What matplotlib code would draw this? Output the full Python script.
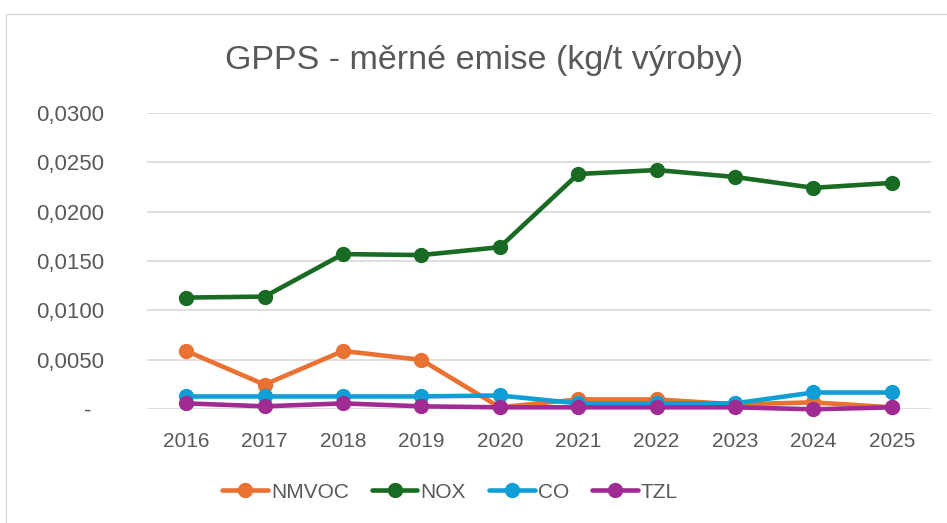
import matplotlib
matplotlib.use('Agg')
from matplotlib import pyplot as plt
from matplotlib.patches import Rectangle

# hodnoty (kg/t vyroby)
roky = ['2016', '2017', '2018', '2019', '2020', '2021', '2022', '2023', '2024', '2025']
nmvoc = [0.0059, 0.0025, 0.0059, 0.0050, 0.0002, 0.0010, 0.0010, 0.0005, 0.0007, 0.0002]
nox = [0.0113, 0.0114, 0.0157, 0.0156, 0.0164, 0.0238, 0.0242, 0.0235, 0.0224, 0.0229]
co = [0.0013, 0.0013, 0.0013, 0.0013, 0.0014, 0.0006, 0.0006, 0.0006, 0.0017, 0.0017]
tzl = [0.0006, 0.0003, 0.0006, 0.0003, 0.0002, 0.0002, 0.0002, 0.0002, 0.0000, 0.0002]

y_ticks = [0, 0.005, 0.010, 0.015, 0.020, 0.025, 0.030]
y_labels = ['-  ', '0,0050', '0,0100', '0,0150', '0,0200', '0,0250', '0,0300']

serie = [('NMVOC', nmvoc, '#E97132'),
         ('NOX', nox, '#196B24'),
         ('CO', co, '#0F9ED5'),
         ('TZL', tzl, '#A02B93')]

plt.rcParams['font.family'] = ['Liberation Sans', 'DejaVu Sans']
text_color = '#595959'

fig = plt.figure(figsize=(9.47, 5.23), dpi=100)
fig.patches.append(Rectangle((6/947, -0.1), 1.1, 1 - 14/523 + 0.1, transform=fig.transFigure,
                             fill=False, edgecolor='#D9D9D9', linewidth=1.0))

ax = fig.add_axes([147/947, 113.7/523, 784/947, 296.6/523])
x = list(range(len(roky)))
for name, vals, col in serie:
    ax.plot(x, vals, color=col, linewidth=3.3, marker='o', markersize=10,
            label=name, solid_capstyle='round', solid_joinstyle='round', clip_on=False)

ax.set_xlim(-0.5, len(roky) - 0.5)
ax.set_ylim(0, 0.030)
ax.set_xticks(x)
ax.set_xticklabels(roky)
ax.set_yticks(y_ticks)
ax.set_yticklabels(y_labels)
ax.tick_params(axis='both', length=0, labelsize=15, colors=text_color)
ax.tick_params(axis='y', pad=31, labelsize=16)
ax.tick_params(axis='x', pad=16)
ax.grid(axis='y', color='#D9D9D9', linewidth=1.2)
ax.set_axisbelow(True)
for s in ax.spines.values():
    s.set_visible(False)

fig.text(484/947, 1 - 61/523, 'GPPS - měrné emise (kg/t výroby)', ha='center', va='center',
         fontsize=24.5, color=text_color)

h, l = ax.get_legend_handles_labels()
fig.legend(h, l, loc='center', bbox_to_anchor=(450/947, 1 - 492/523), ncol=4, frameon=False,
           fontsize=15, labelcolor=text_color, handlelength=2.2, handletextpad=0.15,
           columnspacing=1.1)

fig.savefig('out.png', dpi=100)
